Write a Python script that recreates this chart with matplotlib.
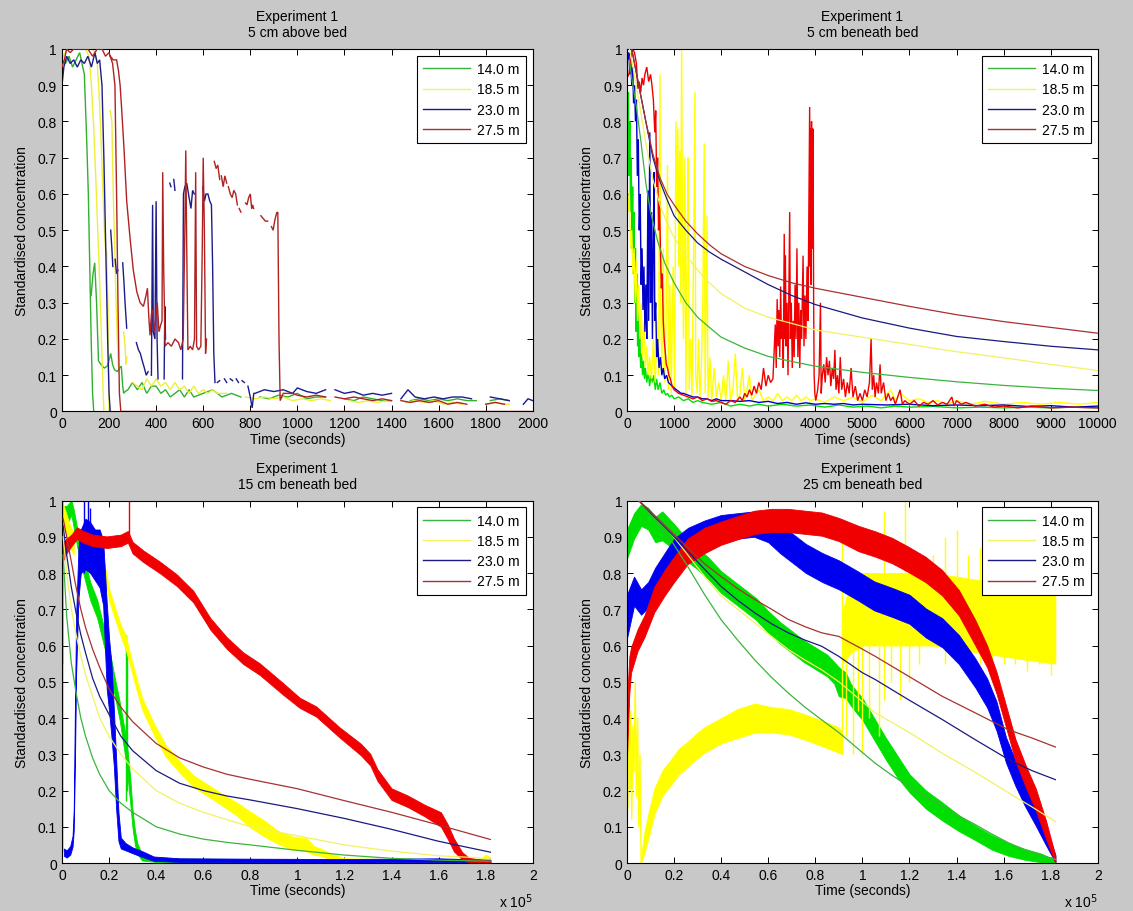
#!/usr/bin/env python
# Tracer breakthrough, experiment 1: standardised concentration at four
# distances along the flume, one panel per sampling depth.

import numpy as np
import matplotlib
matplotlib.use('Agg')
import matplotlib.pyplot as plt
from matplotlib.lines import Line2D

nan = np.nan

DISTANCES = ['14.0 m', '18.5 m', '23.0 m', '27.5 m']
TITLES = ['Experiment 1\n5 cm above bed', 'Experiment 1\n5 cm beneath bed',
          'Experiment 1\n15 cm beneath bed', 'Experiment 1\n25 cm beneath bed']

# ---- 5 cm above bed: (time s, concentration), nan breaks the record
P1_GREEN = [
    (0, .97), (15, .96), (30, .98), (45, .95), (60, .97), (75, .99), (85, .96), (95, .93), (105, .75),
    (112, .6), (118, .4), (124, .2), (130, .05), (135, 0), (nan, nan),
    (124, .32), (132, .38), (139, .41), (147, .3), (155, .14), (165, .13), (180, .12), (192, .125),
    (200, .14), (207, .16), (215, .13), (223, .115), (235, .11), (245, .12), (252, .125), (258, .07),
    (262, .05), (268, .055), (280, .06), (300, .08), (320, .06), (340, .08), (360, .05), (380, .07),
    (400, .07), (420, .05), (440, .06), (460, .04), (480, .05), (500, .06), (520, .04), (540, .06),
    (560, .04), (600, .05), (640, .06), (680, .04), (720, .05), (760, .04), (nan, nan),
    (840, .04), (880, .035), (920, .045), (960, .04), (1000, .05), (1040, .035), (1080, .04), (1120, .04), (nan, nan),
    (1200, .035), (1240, .03), (1280, .04), (1320, .035), (1360, .03), (1400, .03), (nan, nan),
    (1480, .03), (1520, .035), (1560, .03), (1600, .035), (1640, .03), (1680, .035), (1720, .03), (1760, .03), (nan, nan),
    (1820, .03), (1860, .035), (1900, .03)]
P1_YELLOW = [
    (0, .97), (20, 1), (40, 1), (60, 1), (80, 1), (100, 1), (115, .98), (125, .9), (135, .78), (145, .62),
    (155, .45), (163, .3), (170, .15), (178, 0), (nan, nan),
    (130, 1), (140, .99), (150, .96), (160, .85), (170, .68), (180, .5), (185, .45), (190, .44), (195, .3), (200, 0), (nan, nan),
    (205, .83), (212, .8), (218, .6), (224, .45), (230, .3), (236, .18), (240, .12), (nan, nan),
    (262, .22), (268, .18), (272, .13), (276, .15), (nan, nan),
    (300, .08), (320, .07), (340, .06), (360, .09), (380, .07), (400, .09), (420, .07), (440, .08), (460, .06),
    (480, .08), (500, .06), (520, .07), (540, .05), (560, .07), (580, .05), (600, .06), (620, .05), (640, .06),
    (660, .05), (700, .05), (nan, nan),
    (780, .04), (820, .035), (860, .04), (900, .035), (940, .04), (980, .03), (1020, .035), (1060, .03),
    (1100, .035), (1140, .03), (nan, nan),
    (1220, .03), (1260, .025), (1300, .03), (1340, .025), (1380, .03), (nan, nan),
    (1460, .025), (1500, .03), (1540, .025), (1580, .03), (1620, .02), (1660, .025), (1700, .02), (nan, nan),
    (1800, .02), (1840, .025), (1880, .02), (1900, .02)]
P1_BLUE = [
    (0, .9), (8, .95), (20, .98), (35, .96), (50, .97), (65, .95), (80, .97), (95, .96), (110, .98), (125, .95),
    (140, .99), (150, .96), (160, .97), (170, .9), (178, .7), (186, .45), (194, .2), (200, .05), (205, 0), (nan, nan),
    (207, .5), (212, .45), (216, .4), (nan, nan),
    (226, .42), (232, .38), (238, .39), (nan, nan),
    (258, .41), (263, .36), (268, .3), (275, .23), (nan, nan),
    (316, .19), (325, .17), (333, .16), (341, .14), (350, .12), (358, .10), (366, .11), (nan, nan),
    (380, .1), (385, .57), (388, .22), (395, .2), (400, .58), (404, .2), (408, .09), (nan, nan),
    (434, .09), (437, .29), (440, .2), (nan, nan),
    (458, .63), (463, .62), (nan, nan), (475, .64), (480, .61), (nan, nan),
    (512, .09), (516, .6), (522, .62), (530, .63), (540, .59), (548, .56), (555, .61), (562, .6), (nan, nan),
    (598, .62), (605, .58), (612, .6), (620, .6), (628, .58), (635, .57), (640, .4), (645, .16), (650, .08), (nan, nan),
    (660, .08), (670, .085), (nan, nan), (690, .09), (700, .08), (nan, nan), (715, .09), (725, .085), (nan, nan),
    (740, .09), (750, .08), (nan, nan), (765, .085), (775, .08), (nan, nan),
    (790, .07), (800, .04), (808, .01), (815, .05), (820, .05), (860, .06), (900, .055), (940, .06), (980, .05),
    (1000, .065), (1040, .055), (1080, .05), (1120, .06), (nan, nan),
    (1160, .06), (1200, .05), (1240, .055), (1280, .045), (1320, .05), (1360, .045), (1400, .05), (nan, nan),
    (1440, .035), (1470, .06), (1500, .04), (1540, .035), (1580, .04), (1620, .035), (1660, .04), (1700, .04),
    (1740, .035), (nan, nan),
    (1820, .04), (1860, .035), (1900, .03), (nan, nan), (1960, .02), (1980, .035), (2000, .03)]
P1_RED = [
    (0, .95), (10, .97), (20, 1), (35, .99), (50, 1), (70, 1), (90, 1), (110, 1), (130, .98), (150, 1),
    (170, 1), (185, .98), (200, .99), (215, .96), (225, .9), (232, .6), (238, .3), (244, .05), (250, 0),
    (2000, 0), (nan, nan),
    (205, .98), (218, .97), (232, .97), (240, .94), (247, .9), (254, .83), (264, .72), (275, .58), (289, .48),
    (303, .39), (318, .33), (332, .3), (346, .29), (357, .32), (363, .34), (369, .26), (374, .21), (380, .27),
    (386, .28), (392, .22), (398, .25), (405, .3), (412, .22), (420, .24), (425, .25), (428, .66), (432, .4),
    (438, .18), (450, .19), (465, .18), (480, .2), (495, .19), (505, .17), (515, .2), (522, .5), (526, .72),
    (530, .45), (535, .17), (545, .18), (555, .17), (563, .2), (568, .66), (572, .18), (580, .17), (590, .18),
    (596, .45), (600, .7), (605, .5), (610, .16), (614, .2), (nan, nan),
    (647, .69), (655, .67), (662, .68), (670, .64), (nan, nan), (677, .65), (685, .62), (692, .65), (700, .63),
    (nan, nan), (707, .62), (715, .6), (723, .59), (730, .61), (738, .6), (745, .57), (nan, nan), (753, .56),
    (760, .55), (nan, nan), (780, .575), (786, .57), (793, .59), (800, .6), (806, .56), (810, .57), (814, .56),
    (nan, nan), (845, .54), (851, .535), (858, .53), (865, .525), (874, .525), (nan, nan), (890, .51), (897, .5),
    (905, .53), (912, .548), (917, .55), (922, .2), (927, .03), (940, .05), (980, .05), (1000, .045),
    (1040, .04), (1080, .045), (1120, .04), (nan, nan),
    (1160, .04), (1200, .035), (1240, .04), (1280, .035), (1320, .03), (1360, .035), (1400, .03), (nan, nan),
    (1440, .03), (1480, .025), (1520, .03), (1560, .025), (1600, .03), (1640, .02), (1680, .025), (1720, .02),
    (nan, nan), (1800, .02), (1840, .025), (1880, .02)]

# ---- 5 cm beneath bed: measured records (time s, concentration)
P2_GREEN = [
    (0, .85), (15, .78), (30, .88), (45, .65), (60, .8), (75, .55), (90, .7), (105, .45), (120, .62), (135, .38),
    (150, .55), (165, .3), (180, .45), (195, .22), (210, .38), (225, .18), (240, .3), (255, .15), (270, .22),
    (290, .12), (310, .16), (330, .1), (350, .14), (370, .09), (390, .12), (420, .08), (450, .11), (480, .07),
    (510, .1), (540, .08), (570, .1), (600, .06), (630, .09), (660, .06), (700, .08), (740, .05), (780, .06),
    (820, .045), (860, .05), (900, .04), (950, .045), (1000, .035), (1100, .04), (1200, .03), (1300, .035),
    (1400, .025), (1500, .03), (1600, .025), (1800, .02), (2000, .025), (2200, .015), (2400, .02), (2600, .015),
    (2800, .02), (3000, .015), (3300, .02), (3600, .015), (3900, .018), (4200, .012), (4500, .018), (4800, .012),
    (5100, .015), (5400, .01), (5700, .015), (6000, .012), (6500, .014), (7000, .01), (7500, .012), (8000, .01),
    (8500, .012), (9000, .01), (9500, .012), (10000, .01)]
P2_YELLOW = [
    (0, .65), (25, .55), (50, .6), (75, .45), (100, .5), (125, .38), (150, .45), (175, .3), (200, .42), (225, .25),
    (250, .35), (275, .2), (300, .3), (330, .15), (360, .25), (390, .12), (420, .18), (450, .1), (480, .15),
    (520, .09), (560, .2), (600, .08), (640, .25), (670, .1), (700, .93), (715, .3), (740, .12), (770, .45),
    (800, .08), (830, .25), (860, .68), (880, .06), (910, .35), (940, .05), (980, .4), (1010, .06), (1040, .8),
    (1060, .55), (1080, .78), (1100, .4), (1120, .72), (1140, .3), (1160, 1.0), (1180, .45), (1200, .2),
    (1230, .7), (1250, .05), (1280, .5), (1300, .7), (1320, .06), (1350, .2), (1380, .04), (1420, .5),
    (1443, .88), (1460, .1), (1490, .05), (1520, .2), (1550, .04), (1580, .12), (1610, .3), (1640, .74),
    (1660, .05), (1700, .54), (1720, .04), (1760, .15), (1800, .03), (1850, .12), (1900, .04), (1950, .08),
    (2000, .03), (2050, .1), (2100, .03), (2150, .14), (2200, .03), (2250, .06), (2300, .16), (2350, .03),
    (2400, .05), (2450, .12), (2500, .03), (2550, .06), (2600, .1), (2650, .03), (2700, .04), (2800, .06),
    (2900, .03), (3000, .04), (3100, .03), (3200, .05), (3300, .03), (3400, .04), (3500, .03), (3600, .045),
    (3700, .03), (3800, .04), (3900, .03), (4000, .035), (4200, .025), (4400, .04), (4600, .03), (4800, .04),
    (5000, .025), (5200, .045), (5400, .03), (5600, .06), (5700, .03), (5800, .05), (6000, .03), (6200, .035),
    (6400, .025), (6600, .03), (6800, .02), (7000, .03), (7300, .02), (7600, .028), (8000, .02), (8400, .025),
    (8800, .02), (9200, .025), (9600, .02), (10000, .025)]
P2_BLUE = [
    (0, 1.0), (20, .97), (40, .99), (60, .93), (80, .97), (100, .9), (120, .95), (140, .85), (160, .9), (180, .8),
    (200, .86), (220, .65), (240, .75), (260, .5), (280, .6), (300, .35), (320, .45), (340, .28), (360, .4),
    (380, .22), (400, .35), (420, .2), (445, .61), (460, .25), (484, .77), (500, .3), (520, .55), (540, .2),
    (560, .5), (576, .66), (590, .25), (610, .3), (630, .15), (650, .2), (680, .12), (710, .15), (740, .1),
    (770, .12), (800, .09), (840, .1), (880, .08), (920, .075), (960, .07), (1000, .065), (1050, .06),
    (1100, .055), (1150, .05), (1200, .05), (1300, .045), (1400, .04), (1500, .04), (1600, .035), (1700, .035),
    (1800, .03), (1900, .035), (2000, .03), (2200, .03), (2400, .028), (2600, .03), (2800, .025), (3000, .028),
    (3200, .022), (3400, .025), (3600, .02), (3800, .024), (4000, .02), (4200, .022), (4400, .02), (4600, .022),
    (4800, .018), (5000, .02), (5500, .018), (6000, .02), (6500, .016), (7000, .018), (7500, .016), (8000, .018),
    (8500, .014), (9000, .016), (9500, .012), (10000, .015)]
P2_RED = [
    (0, .92), (40, .93), (80, .97), (120, 1.0), (160, .99), (200, .96), (230, .89), (260, .91), (290, .88),
    (320, .92), (350, .9), (380, .93), (420, .95), (460, .91), (500, .93), (530, .9), (560, .86), (590, .77),
    (610, .83), (630, .62), (650, .7), (670, .5), (690, .58), (710, .45), (730, .34), (750, .38), (770, .25),
    (790, .2), (810, .17), (835, .13), (860, .12), (890, .1), (920, .09), (960, .07), (1000, .06), (1050, .055),
    (1100, .05), (1200, .045), (1300, .04), (1400, .035), (1500, .04), (1600, .03), (1700, .035), (1800, .028),
    (1900, .03), (2000, .025), (2100, .02), (2200, .03), (2300, .025), (2400, .04), (2450, .03), (2500, .05),
    (2550, .04), (2600, .06), (2650, .045), (2700, .07), (2750, .05), (2800, .08), (2850, .06), (2900, .12),
    (2950, .07), (3000, .1), (3050, .08), (3100, .09), (3150, .24), (3170, .12), (3190, .31), (3210, .18),
    (3225, .28), (3245, .15), (3264, .345), (3280, .2), (3300, .25), (3320, .12), (3340, .49), (3355, .2),
    (3364, .43), (3380, .18), (3400, .3), (3420, .1), (3440, .35), (3456, .55), (3470, .2), (3490, .3),
    (3510, .12), (3530, .25), (3550, .15), (3570, .35), (3590, .2), (3610, .45), (3630, .15), (3650, .3),
    (3670, .12), (3690, .28), (3710, .2), (3740, .43), (3760, .18), (3780, .32), (3800, .2), (3825, .4),
    (3845, .25), (3865, .6), (3880, .84), (3890, .4), (3900, .78), (3910, .35), (3920, .8), (3935, .45),
    (3950, .78), (3965, .3), (3975, .1), (3990, .05), (4010, .03), (4050, .06), (4080, .1), (4110, .3),
    (4125, .05), (4150, .1), (4180, .13), (4210, .08), (4240, .15), (4270, .1), (4300, .14), (4330, .07),
    (4360, .12), (4390, .09), (4416, .17), (4440, .06), (4470, .1), (4500, .05), (4530, .15), (4560, .06),
    (4600, .09), (4640, .04), (4680, .08), (4720, .05), (4760, .12), (4800, .04), (4850, .07), (4900, .03),
    (4950, .05), (5000, .03), (5050, .06), (5100, .04), (5150, .08), (5185, .2), (5210, .06), (5240, .1),
    (5270, .04), (5300, .08), (5340, .05), (5376, .13), (5400, .05), (5450, .08), (5500, .03), (5550, .05),
    (5600, .03), (5650, .04), (5700, .02), (5800, .06), (5850, .02), (5900, .03), (6000, .02), (6100, .03),
    (6200, .015), (6300, .025), (6400, .02), (6500, .03), (6600, .018), (6700, .025), (6800, .02), (6900, .04),
    (6950, .015), (7000, .03), (7100, .02), (7200, .025), (7400, .015), (7600, .02), (7800, .012), (8000, .015),
    (8300, .01), (8600, .015), (9000, .01), (9400, .012), (10000, .01)]

# fitted curves, 5 cm beneath bed
P2_GREEN_FIT = [(50, .97), (100, .92), (200, .84), (300, .74), (400, .63), (500, .55), (650, .47), (800, .41),
                (1000, .355), (1250, .3), (1500, .26), (1750, .232), (2000, .205), (2500, .175), (3000, .152),
                (3500, .138), (4000, .125), (5000, .108), (6000, .094), (7000, .082), (8000, .072), (9000, .064),
                (10000, .058)]
P2_YELLOW_FIT = [(50, 1.0), (100, .97), (250, .86), (400, .74), (550, .64), (700, .57), (850, .52), (1000, .48),
                 (1250, .43), (1500, .39), (1750, .355), (2000, .325), (2500, .285), (3000, .26), (3500, .243),
                 (4000, .225), (5000, .205), (6000, .185), (7000, .165), (8000, .148), (9000, .13), (10000, .113)]
P2_BLUE_FIT = [(100, 1.0), (250, .9), (400, .8), (550, .7), (700, .635), (850, .585), (1000, .54), (1250, .5),
               (1500, .465), (1750, .44), (2000, .42), (2500, .385), (3000, .35), (3500, .32), (4000, .295),
               (5000, .258), (6000, .23), (7000, .207), (8000, .193), (9000, .18), (10000, .17)]
P2_RED_FIT = [(100, 1.0), (250, .9), (400, .8), (550, .71), (700, .645), (850, .6), (1000, .57), (1250, .525),
              (1500, .49), (1750, .46), (2000, .435), (2500, .4), (3000, .375), (3500, .355), (4000, .34),
              (5000, .315), (6000, .29), (7000, .267), (8000, .248), (9000, .232), (10000, .216)]

# ---- 15 cm beneath bed: (time x 1e5 s, mean, half spread of the noisy record)
P3_GREEN = [(0, .96, .025), (.02, .96, .025), (.04, .98, .02), (.05, .95, .025), (.064, .9, .025), (.08, .85, .025),
            (.1, .8, .025), (.12, .75, .025), (.15, .7, .025), (.176, .63, .025), (.2, .57, .025), (.22, .5, .025),
            (.245, .42, .025), (.26, .36, .03), (.275, .3, .035), (.29, .2, .035), (.3, .12, .025), (.31, .07, .02),
            (.32, .04, .015), (.34, .015, .008), (.4, .008, .005), (1.0, .006, .004), (1.82, .006, .004)]
P3_YELLOW_HEAD = [(0, .97, .03), (.02, .93, .03), (.035, .9, .03), (.05, .88, .03)]
P3_YELLOW = [(.176, .82, .016), (.19, .78, .016), (.2, .74, .016), (.22, .7, .016), (.25, .64, .016),
             (.27, .61, .02), (.29, .56, .016), (.31, .51, .016), (.34, .44, .016), (.39, .37, .016),
             (.44, .31, .016), (.5, .265, .016), (.56, .225, .016), (.62, .2, .016), (.68, .175, .016),
             (.74, .15, .018), (.8, .12, .022), (.86, .095, .022), (.92, .07, .018), (.98, .055, .018),
             (1.04, .05, .018), (1.07, .035, .012), (1.1, .03, .01), (1.15, .016, .008), (1.2, .008, .005),
             (1.5, .006, .004), (1.78, .008, .004), (1.8, .015, .008), (1.82, .01, .006)]
P3_BLUE = [(.008, .03, .01), (.02, .025, .01), (.035, .035, .012), (.045, .06, .015), (.05, .12, .03),
           (.055, .35, .08), (.06, .6, .08), (.07, .8, .07), (.08, .86, .06), (.1, .88, .07), (.12, .87, .07),
           (.14, .85, .07), (.16, .84, .08), (.175, .8, .09), (.19, .6, .12), (.2, .52, .1), (.21, .45, .1),
           (.22, .35, .08), (.23, .22, .07), (.24, .1, .04), (.25, .055, .015), (.27, .045, .01), (.3, .035, .008),
           (.34, .025, .008), (.39, .012, .006), (.5, .008, .005), (.8, .007, .005), (1.2, .006, .005),
           (1.6, .008, .005), (1.82, .005, .004)]
P3_RED = [(.005, .86, .025), (.02, .875, .02), (.04, .89, .016), (.064, .91, .016), (.09, .9, .016),
          (.13, .89, .016), (.19, .885, .016), (.25, .89, .016), (.28, .9, .016), (.3, .87, .016),
          (.346, .846, .016), (.417, .815, .016), (.488, .78, .016), (.558, .735, .016), (.63, .66, .016),
          (.7, .607, .016), (.77, .565, .016), (.84, .535, .016), (.94, .48, .016), (1.01, .442, .014),
          (1.08, .418, .014), (1.18, .36, .014), (1.27, .313, .016), (1.31, .285, .016), (1.34, .243, .016),
          (1.4, .19, .016), (1.47, .17, .016), (1.54, .145, .016), (1.61, .12, .02), (1.64, .085, .02),
          (1.665, .05, .018), (1.7, .02, .01), (1.73, .008, .006), (1.82, .003, .003)]
# isolated excursions: (time x 1e5 s, low, high)
P3_GREEN_SPIKES = [(.272, .17, .63), (.278, .2, .6)]
P3_BLUE_SPIKES = [(.002, .03, .85), (.095, .8, 1.0), (.11, .82, 1.0), (.118, .8, .98)]
P3_RED_SPIKES = [(.002, .55, 1.0), (.285, .9, 1.0)]

P3_FIT_T = [.005, .02, .04, .06, .08, .1, .13, .16, .2, .25, .3, .4, .5, .6, .7, .8, 1.0, 1.2, 1.4, 1.6, 1.82]
P3_GREEN_FIT = [.85, .68, .55, .47, .4, .35, .29, .245, .2, .165, .14, .1, .08, .066, .057, .05, .035, .022, .013, .008, .005]
P3_YELLOW_FIT = [.9, .8, .7, .63, .57, .52, .46, .4, .35, .3, .26, .2, .165, .14, .12, .1, .075, .05, .033, .02, .013]
P3_BLUE_FIT = [.93, .85, .76, .69, .63, .58, .51, .46, .41, .35, .31, .255, .22, .2, .185, .174, .15, .123, .093, .06, .03]
P3_RED_FIT = [.95, .9, .83, .76, .7, .65, .59, .54, .48, .43, .39, .33, .29, .265, .245, .231, .205, .172, .14, .105, .065]

# ---- 25 cm beneath bed
P4_GREEN = [(0, .88, .04), (.03, .93, .035), (.06, .96, .03), (.09, .95, .03), (.12, .92, .035), (.15, .93, .04),
            (.2, .9, .035), (.26, .86, .03), (.3, .84, .03), (.35, .81, .03), (.4, .775, .03), (.45, .75, .03),
            (.5, .725, .03), (.55, .7, .03), (.6, .665, .03), (.65, .635, .03), (.7, .61, .03), (.75, .585, .03),
            (.8, .565, .03), (.85, .545, .03), (.88, .525, .03), (.9, .5, .04), (.93, .49, .035), (.95, .465, .03),
            (.98, .44, .03), (1.0, .425, .03), (1.05, .37, .03), (1.1, .315, .03), (1.15, .265, .03),
            (1.2, .22, .025), (1.27, .175, .025), (1.34, .142, .025), (1.41, .11, .022), (1.48, .083, .02),
            (1.55, .057, .02), (1.62, .038, .018), (1.69, .024, .015), (1.76, .014, .012), (1.82, .004, .004)]
P4_YELLOW_HEAD = [(0, .45), (.004, .15), (.008, .5), (.012, .2), (.016, .42), (.02, .12), (.025, .38), (.03, .25),
                  (.035, .5), (.04, .18), (.045, .4), (.05, .1), (.055, .3), (.06, 0)]
P4_YELLOW_LOW = [(.06, .01, .01), (.075, .06, .03), (.09, .1, .035), (.116, .17, .035), (.15, .22, .035),
                 (.186, .25, .035), (.22, .28, .035), (.258, .3, .035), (.3, .325, .035), (.33, .34, .035),
                 (.4, .365, .035), (.47, .385, .04), (.543, .4, .04), (.614, .395, .035), (.685, .39, .035),
                 (.756, .375, .035), (.827, .358, .035), (.898, .34, .035), (.915, .33, .03)]
P4_YELLOW_HIGH = [(.915, .62, .07), (.95, .68, .1), (1.0, .7, .1), (1.1, .7, .1), (1.2, .7, .1), (1.3, .7, .1),
                  (1.4, .69, .1), (1.5, .68, .1), (1.6, .67, .1), (1.7, .66, .1), (1.82, .65, .1)]
P4_YELLOW_SPIKES = [(.915, .3, .95), (.93, .35, .7), (.96, .3, .8), (.98, .42, .75), (1.0, .3, .6), (1.03, .4, .7),
                    (1.07, .35, .6), (1.09, .45, .97), (1.12, .5, .65), (1.16, .45, .7), (1.18, .6, 1.0),
                    (1.2, .5, .7), (1.24, .55, .8), (1.3, .6, .85), (1.35, .55, .9), (1.4, .6, .92),
                    (1.45, .55, .85), (1.5, .55, .87), (1.55, .5, .8), (1.6, .55, .85), (1.65, .55, .82),
                    (1.7, .53, .8), (1.75, .55, .82), (1.8, .52, .8)]
P4_BLUE = [(0, .68, .06), (.03, .75, .04), (.06, .72, .035), (.09, .74, .035), (.12, .775, .04), (.16, .815, .04),
           (.2, .855, .04), (.26, .885, .04), (.33, .905, .04), (.4, .92, .04), (.47, .93, .035), (.54, .935, .035),
           (.6, .92, .035), (.65, .895, .04), (.7, .87, .04), (.76, .84, .04), (.83, .815, .04), (.9, .795, .04),
           (.98, .765, .04), (1.05, .737, .04), (1.13, .718, .04), (1.2, .7, .04), (1.27, .662, .04),
           (1.34, .635, .04), (1.41, .589, .04), (1.48, .524, .04), (1.53, .469, .04), (1.57, .405, .04),
           (1.61, .312, .035), (1.65, .248, .035), (1.69, .193, .035), (1.74, .129, .03), (1.78, .074, .025),
           (1.82, .012, .01)]
P4_RED = [(0, .35, .06), (.005, .45, .06), (.01, .52, .05), (.017, .56, .035), (.045, .615, .03), (.074, .653, .03),
          (.116, .727, .035), (.16, .773, .035), (.2, .81, .035), (.258, .86, .035), (.33, .89, .035),
          (.4, .91, .032), (.47, .925, .032), (.543, .94, .032), (.614, .945, .032), (.685, .945, .032),
          (.756, .94, .032), (.827, .935, .032), (.9, .92, .032), (.984, .895, .035), (1.055, .88, .035),
          (1.126, .862, .035), (1.197, .837, .035), (1.268, .81, .035), (1.339, .773, .035), (1.41, .718, .035),
          (1.48, .635, .035), (1.53, .57, .03), (1.57, .497, .03), (1.61, .405, .03), (1.65, .312, .03),
          (1.694, .239, .03), (1.737, .175, .03), (1.78, .092, .025), (1.82, .01, .01)]

P4_GREEN_FIT = [(.05, 1.0), (.1, .96), (.186, .892), (.258, .818), (.33, .74), (.4, .671), (.47, .615), (.543, .56),
                (.614, .512), (.685, .469), (.756, .43), (.827, .395), (.9, .36), (1.0, .305), (1.055, .275),
                (1.126, .242), (1.197, .212), (1.27, .183), (1.339, .157), (1.41, .13), (1.48, .106), (1.55, .08),
                (1.623, .055), (1.7, .033), (1.82, .01)]
P4_YELLOW_FIT = [(.05, 1.0), (.1, .965), (.186, .91), (.258, .85), (.33, .79), (.4, .736), (.47, .7), (.543, .662),
                 (.614, .625), (.685, .589), (.756, .56), (.827, .533), (.9, .5), (1.0, .445), (1.055, .414),
                 (1.2, .36), (1.339, .303), (1.48, .25), (1.623, .193), (1.72, .155), (1.82, .114)]
P4_BLUE_FIT = [(.05, 1.0), (.1, .965), (.186, .91), (.258, .86), (.33, .81), (.4, .763), (.47, .725), (.543, .69),
               (.614, .66), (.685, .635), (.756, .615), (.827, .598), (.9, .57), (1.0, .525), (1.055, .506),
               (1.197, .45), (1.339, .396), (1.48, .34), (1.623, .285), (1.72, .255), (1.82, .23)]
P4_RED_FIT = [(.05, 1.0), (.1, .97), (.186, .915), (.258, .87), (.33, .825), (.4, .79), (.47, .757), (.543, .727),
              (.614, .7), (.685, .672), (.756, .652), (.827, .635), (.9, .625), (1.0, .59), (1.055, .57),
              (1.197, .515), (1.339, .46), (1.48, .414), (1.623, .367), (1.72, .345), (1.82, .32)]

# colours: bright for raw records, darker for thin lines and fits
RAW = {'g': '#00e000', 'y': '#ffff00', 'b': '#0000f0', 'r': '#f00000'}
THIN = {'g': '#2fb02f', 'y': '#eeee3a', 'b': '#1c1c8a', 'r': '#b02222'}
FIT = {'g': '#3cb43c', 'y': '#f2f260', 'b': '#1a1a80', 'r': '#a83030'}

plt.rcParams['font.family'] = ['Liberation Sans', 'DejaVu Sans']
plt.rcParams['font.size'] = 10


def trace(ax, pts, color, lw=1.0, z=2):
    a = np.array(pts, dtype=float)
    ax.plot(a[:, 0], a[:, 1], color=color, lw=lw, zorder=z, solid_joinstyle='miter')


def band(ax, rows, color, z=2):
    a = np.array(rows, dtype=float)
    ax.fill_between(a[:, 0], a[:, 1] - a[:, 2], a[:, 1] + a[:, 2],
                    facecolor=color, edgecolor=color, lw=0.6, zorder=z)


def spikes(ax, rows, color, z=2):
    a = np.array(rows, dtype=float)
    ax.vlines(a[:, 0], a[:, 1], a[:, 2], color=color, lw=1.0, zorder=z)


def fit(ax, t, c, color):
    ax.plot(t, c, color=color, lw=0.9, zorder=4)


def dress(ax, title, xmax, xstep, scaled=False):
    ax.set_facecolor('white')
    ax.set_xlim(0, xmax)
    ax.set_ylim(0, 1)
    xt = np.arange(0, xmax + xstep / 2, xstep)
    ax.set_xticks(xt)
    ax.set_xticklabels(['%g' % round(v, 1) for v in xt])
    yt = np.arange(0, 1.05, 0.1)
    ax.set_yticks(yt)
    ax.set_yticklabels(['%g' % round(v, 1) for v in yt])
    ax.tick_params(direction='in', length=4, width=0.7, top=True, right=True, pad=3.5, labelsize=10)
    for s in ax.spines.values():
        s.set_linewidth(0.8)
    ax.set_title(title, fontsize=10, pad=9, linespacing=1.2)
    ax.set_xlabel('Time (seconds)', fontsize=10, labelpad=1)
    ax.set_ylabel('Standardised concentration', fontsize=10, labelpad=6)
    if scaled:
        ax.text(1.0, -0.105, r'x 10$^5$', transform=ax.transAxes, ha='right', va='center', fontsize=10)
    handles = [Line2D([0], [0], color=FIT[k], lw=1.0) for k in 'gybr']
    leg = ax.legend(handles, DISTANCES, loc='upper right', fancybox=False, framealpha=1,
                    edgecolor='black', handlelength=3.4, handletextpad=0.5, labelspacing=0.45,
                    borderpad=0.45, borderaxespad=0.5, fontsize=10)
    leg.get_frame().set_linewidth(0.8)
    leg.set_zorder(10)


fig = plt.figure(figsize=(11.33, 9.12), dpi=100, facecolor='#c8c8c8')
ax1 = fig.add_axes([0.0547, 0.5477, 0.4155, 0.3975])
ax2 = fig.add_axes([0.5534, 0.5477, 0.4155, 0.3975])
ax3 = fig.add_axes([0.0547, 0.0526, 0.4155, 0.3975])
ax4 = fig.add_axes([0.5534, 0.0526, 0.4155, 0.3975])

# 5 cm above bed
trace(ax1, P1_GREEN, THIN['g'])
trace(ax1, P1_YELLOW, THIN['y'])
trace(ax1, P1_BLUE, THIN['b'])
trace(ax1, P1_RED, THIN['r'], z=3)
dress(ax1, TITLES[0], 2000, 200)

# 5 cm beneath bed
trace(ax2, P2_GREEN, RAW['g'])
trace(ax2, P2_YELLOW, RAW['y'])
trace(ax2, P2_BLUE, '#0000c8')
trace(ax2, P2_RED, RAW['r'])
for pts, k in [(P2_GREEN_FIT, 'g'), (P2_YELLOW_FIT, 'y'), (P2_BLUE_FIT, 'b'), (P2_RED_FIT, 'r')]:
    a = np.array(pts)
    fit(ax2, a[:, 0], a[:, 1], FIT[k])
dress(ax2, TITLES[1], 10000, 1000)

# 15 cm beneath bed
band(ax3, P3_GREEN, RAW['g'])
spikes(ax3, P3_GREEN_SPIKES, RAW['g'])
band(ax3, P3_YELLOW_HEAD, RAW['y'])
band(ax3, P3_YELLOW, RAW['y'])
band(ax3, P3_BLUE, RAW['b'])
spikes(ax3, P3_BLUE_SPIKES, RAW['b'])
band(ax3, P3_RED, RAW['r'])
spikes(ax3, P3_RED_SPIKES, RAW['r'])
for c, k in [(P3_GREEN_FIT, 'g'), (P3_YELLOW_FIT, 'y'), (P3_BLUE_FIT, 'b'), (P3_RED_FIT, 'r')]:
    fit(ax3, P3_FIT_T, c, FIT[k])
dress(ax3, TITLES[2], 2, 0.2, scaled=True)

# 25 cm beneath bed
band(ax4, P4_GREEN, RAW['g'])
trace(ax4, P4_YELLOW_HEAD, RAW['y'])
band(ax4, P4_YELLOW_LOW, RAW['y'])
band(ax4, P4_YELLOW_HIGH, RAW['y'])
spikes(ax4, P4_YELLOW_SPIKES, RAW['y'])
band(ax4, P4_BLUE, RAW['b'])
band(ax4, P4_RED, RAW['r'])
for pts, k in [(P4_GREEN_FIT, 'g'), (P4_YELLOW_FIT, 'y'), (P4_BLUE_FIT, 'b'), (P4_RED_FIT, 'r')]:
    a = np.array(pts)
    fit(ax4, a[:, 0], a[:, 1], FIT[k])
dress(ax4, TITLES[3], 2, 0.2, scaled=True)

fig.savefig('out.png', dpi=100, facecolor=fig.get_facecolor())
